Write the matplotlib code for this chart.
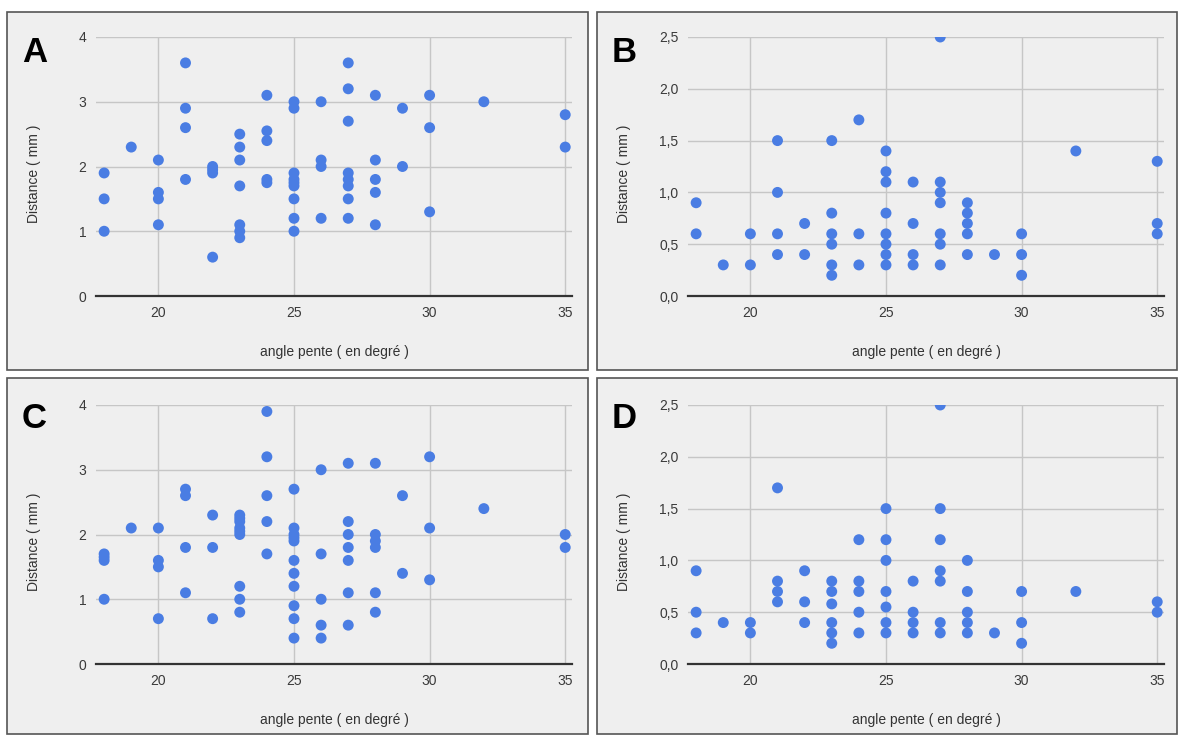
import matplotlib.pyplot as plt
from matplotlib.patches import Rectangle

# panel A
a_angle = [18, 18, 18, 19, 20, 20, 20, 20, 21, 21, 21, 21, 22, 22, 22, 22,
           23, 23, 23, 23, 23, 23, 23, 24, 24, 24, 24, 24,
           25, 25, 25, 25, 25, 25, 25, 25, 25, 26, 26, 26, 26,
           27, 27, 27, 27, 27, 27, 27, 27, 28, 28, 28, 28, 28,
           29, 29, 30, 30, 30, 32, 35, 35]
a_dist = [1.9, 1.5, 1.0, 2.3, 2.1, 1.6, 1.5, 1.1, 3.6, 2.9, 2.6, 1.8, 2.0, 1.95, 1.9, 0.6,
          2.5, 2.3, 2.1, 1.7, 1.1, 1.0, 0.9, 3.1, 2.55, 2.4, 1.8, 1.75,
          3.0, 2.9, 1.9, 1.8, 1.75, 1.7, 1.5, 1.2, 1.0, 3.0, 2.1, 2.0, 1.2,
          3.6, 3.2, 2.7, 1.9, 1.8, 1.7, 1.5, 1.2, 3.1, 2.1, 1.8, 1.6, 1.1,
          2.9, 2.0, 3.1, 2.6, 1.3, 3.0, 2.8, 2.3]

# panel B
b_angle = [18, 18, 19, 20, 20, 21, 21, 21, 21, 22, 22,
           23, 23, 23, 23, 23, 23, 24, 24, 24,
           25, 25, 25, 25, 25, 25, 25, 25, 26, 26, 26, 26,
           27, 27, 27, 27, 27, 27, 27, 28, 28, 28, 28, 28,
           29, 30, 30, 30, 32, 35, 35, 35]
b_dist = [0.9, 0.6, 0.3, 0.6, 0.3, 1.5, 1.0, 0.6, 0.4, 0.7, 0.4,
          1.5, 0.8, 0.6, 0.5, 0.3, 0.2, 1.7, 0.6, 0.3,
          1.4, 1.2, 1.1, 0.8, 0.6, 0.5, 0.4, 0.3, 1.1, 0.7, 0.4, 0.3,
          2.5, 1.1, 1.0, 0.9, 0.6, 0.5, 0.3, 0.9, 0.8, 0.7, 0.6, 0.4,
          0.4, 0.6, 0.4, 0.2, 1.4, 1.3, 0.7, 0.6]

# panel C
c_angle = [18, 18, 18, 18, 19, 20, 20, 20, 20, 21, 21, 21, 21, 22, 22, 22,
           23, 23, 23, 23, 23, 23, 23, 23, 23, 24, 24, 24, 24, 24,
           25, 25, 25, 25, 25, 25, 25, 25, 25, 25, 25,
           26, 26, 26, 26, 26, 27, 27, 27, 27, 27, 27, 27,
           28, 28, 28, 28, 28, 28, 29, 29, 30, 30, 30, 32, 35, 35]
c_dist = [1.7, 1.65, 1.6, 1.0, 2.1, 2.1, 1.6, 1.5, 0.7, 2.7, 2.6, 1.8, 1.1, 2.3, 1.8, 0.7,
          2.3, 2.25, 2.2, 2.1, 2.05, 2.0, 1.2, 1.0, 0.8, 3.9, 3.2, 2.6, 2.2, 1.7,
          2.7, 2.1, 2.0, 1.95, 1.9, 1.6, 1.4, 1.2, 0.9, 0.7, 0.4,
          3.0, 1.7, 1.0, 0.6, 0.4, 3.1, 2.2, 2.0, 1.8, 1.6, 1.1, 0.6,
          3.1, 2.0, 1.9, 1.8, 1.1, 0.8, 2.6, 1.4, 3.2, 2.1, 1.3, 2.4, 2.0, 1.8]

# panel D
d_angle = [18, 18, 18, 19, 20, 20, 21, 21, 21, 21, 22, 22, 22,
           23, 23, 23, 23, 23, 23, 24, 24, 24, 24, 24,
           25, 25, 25, 25, 25, 25, 25, 26, 26, 26, 26,
           27, 27, 27, 27, 27, 27, 27, 28, 28, 28, 28, 28,
           29, 30, 30, 30, 32, 35, 35]
d_dist = [0.9, 0.5, 0.3, 0.4, 0.4, 0.3, 1.7, 0.8, 0.7, 0.6, 0.9, 0.6, 0.4,
          0.8, 0.7, 0.58, 0.4, 0.3, 0.2, 1.2, 0.8, 0.7, 0.5, 0.3,
          1.5, 1.2, 1.0, 0.7, 0.55, 0.4, 0.3, 0.8, 0.5, 0.4, 0.3,
          2.5, 1.5, 1.2, 0.9, 0.8, 0.4, 0.3, 1.0, 0.7, 0.5, 0.4, 0.3,
          0.3, 0.7, 0.4, 0.2, 0.7, 0.6, 0.5]

x_ticks = [20, 25, 30, 35]
ticks_big = [0, 1, 2, 3, 4]
labels_big = ['0', '1', '2', '3', '4']
ticks_small = [0, 0.5, 1.0, 1.5, 2.0, 2.5]
labels_small = ['0,0', '0,5', '1,0', '1,5', '2,0', '2,5']

plt.rcParams['font.family'] = ['Liberation Sans', 'DejaVu Sans']

W, H = 1179, 736
fig = plt.figure(figsize=(W / 100, H / 100), dpi=100)
fig.patch.set_facecolor('white')


def rect(l, t, r, b):
    return [l / W, 1 - b / H, (r - l) / W, (b - t) / H]


panels = [
    ('A', a_angle, a_dist, ticks_big, labels_big, (7, 12, 588, 370), 96, 37),
    ('B', b_angle, b_dist, ticks_small, labels_small, (597, 12, 1177, 370), 688, 37),
    ('C', c_angle, c_dist, ticks_big, labels_big, (7, 378, 588, 734), 96, 405),
    ('D', d_angle, d_dist, ticks_small, labels_small, (597, 378, 1177, 734), 688, 405),
]

for letter, xs, ys, yt, ytl, frame, left, top in panels:
    l, t, r, b = frame
    fig.patches.append(Rectangle((l / W, 1 - b / H), (r - l) / W, (b - t) / H,
                                 transform=fig.transFigure, facecolor='#efefef',
                                 edgecolor='#555555', linewidth=1.2, zorder=-5))
    ax = fig.add_axes(rect(left, top, left + 476, top + 259))
    ax.set_zorder(2)
    ax.set_facecolor('#efefef')
    ax.scatter(xs, ys, s=62, color='#4a7de3', edgecolors='none', zorder=3)
    ax.set_xlim(17.7, 35.25)
    ax.set_ylim(yt[0], yt[-1])
    ax.set_xticks(x_ticks)
    ax.set_yticks(yt)
    ax.set_yticklabels(ytl)
    ax.grid(True, color='#c6c6c6', linewidth=1)
    ax.set_axisbelow(True)
    for s in ['top', 'right', 'left']:
        ax.spines[s].set_visible(False)
    ax.spines['bottom'].set_color('#333333')
    ax.spines['bottom'].set_linewidth(1.6)
    ax.tick_params(length=0, labelsize=10, labelcolor='#3a3a3a', pad=7)
    ax.set_xlabel('angle pente ( en degré )', fontsize=10, color='#333333', labelpad=18)
    ax.set_ylabel('Distance ( mm )', fontsize=10, color='#333333')
    ax.yaxis.set_label_coords((l + 34 - left) / 476, 0.47)
    fig.text((l + 15) / W, 1 - (t + 50) / H, letter, fontsize=25, fontweight='bold',
             color='black', va='baseline')

fig.savefig('out.png', dpi=100)
